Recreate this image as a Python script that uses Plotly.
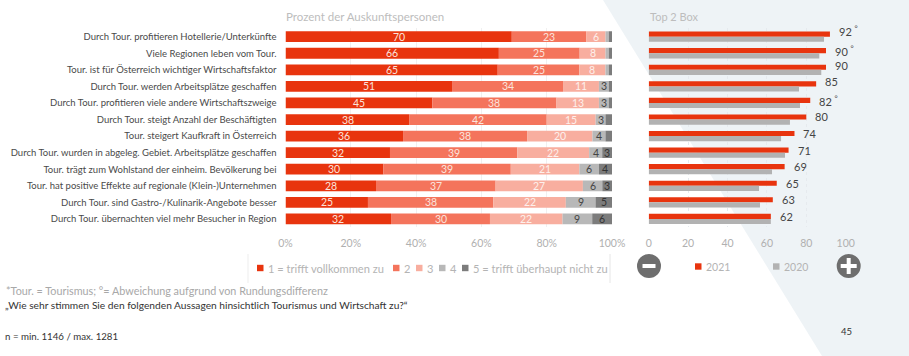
import plotly.graph_objects as go

W, H = 909, 356
FONT = "Lato"

statements = [
    "Durch Tour. profitieren Hotellerie/Unterkünfte",
    "Viele Regionen leben vom Tour.",
    "Tour. ist für Österreich wichtiger Wirtschaftsfaktor",
    "Durch Tour. werden Arbeitsplätze geschaffen",
    "Durch Tour. profitieren viele andere Wirtschaftszweige",
    "Durch Tour. steigt Anzahl der Beschäftigten",
    "Tour. steigert Kaufkraft in Österreich",
    "Durch Tour. wurden in abgeleg. Gebiet. Arbeitsplätze geschaffen",
    "Tour. trägt zum Wohlstand der einheim. Bevölkerung bei",
    "Tour. hat positive Effekte auf regionale (Klein-)Unternehmen",
    "Durch Tour. sind Gastro-/Kulinarik-Angebote besser",
    "Durch Tour. übernachten viel mehr Besucher in Region",
]

answer_1 = [70, 66, 65, 51, 45, 38, 36, 32, 30, 28, 25, 32]
answer_2 = [23, 25, 25, 34, 38, 42, 38, 39, 39, 37, 38, 30]
answer_3 = [6, 8, 8, 11, 13, 15, 20, 22, 21, 27, 22, 22]
answer_4 = [1, 1, 1, 3, 3, 3, 4, 4, 6, 6, 9, 9]
answer_5 = [1, 1, 1, 1, 1, 2, 2, 3, 4, 3, 5, 6]

answer_names = ["1 = trifft vollkommen zu", "2", "3", "4", "5 = trifft überhaupt nicht zu"]
answer_colors = ["#E8340E", "#F4745C", "#F8AE9F", "#B8B8B8", "#7C7C7C"]
answer_text_colors = ["#FBE3DC", "#FBE3DC", "#FDF0EC", "#444444", "#333333"]
# Shares too thin to carry a number stay unlabelled
MIN_LABELLED_SHARE = 3

top2_2021 = [92, 90, 90, 85, 82, 80, 74, 71, 69, 65, 63, 62]
top2_2020 = [89, 86.6, 87.6, 76.3, 76.8, 71.7, 67.2, 69.2, 62.6, 56, 56.5, 62]
top2_rounding_note = [True, True, False, False, True, False, False, False, False, False, False, False]
top2_label_lift = [4, 0, 2, 2, 0, 0, 0, 0, 0, 0, 0, 0]

pct_ticks = [0, 20, 40, 60, 80, 100]
pct_labels = ["0%", "20%", "40%", "60%", "80%", "100%"]
box_ticks = [0, 20, 40, 60, 80, 100]


def px(x):
    return x / W


def py(y):
    return 1 - y / H


rows = list(range(len(statements)))
answers = [answer_1, answer_2, answer_3, answer_4, answer_5]
row_totals = [sum(a[i] for a in answers) for i in rows]

fig = go.Figure()
annotations = []

# Stacked answer shares, scaled per row to a full 100 % bar
running = [0.0] * len(rows)
for values, name, color, text_color in zip(answers, answer_names, answer_colors, answer_text_colors):
    shares = [v / t * 100 for v, t in zip(values, row_totals)]
    fig.add_trace(go.Bar(
        y=rows, x=shares, base=list(running), name=name, orientation="h",
        xaxis="x", yaxis="y", width=0.65, marker=dict(color=color, line_width=0),
        showlegend=False,
    ))
    for i, (value, share) in enumerate(zip(values, shares)):
        if value >= MIN_LABELLED_SHARE:
            annotations.append(dict(
                x=running[i] + share / 2, y=i, xref="x", yref="y", text=str(value),
                showarrow=False, xanchor="center", yanchor="middle",
                font=dict(family=FONT, size=10.5, color=text_color),
            ))
    running = [r + s for r, s in zip(running, shares)]

# Top-2-box comparison of both survey years
fig.add_trace(go.Bar(
    y=rows, x=top2_2021, name="2021", orientation="h", xaxis="x2", yaxis="y2",
    width=0.31, offset=-0.31, marker=dict(color="#E8340E", line_width=0), showlegend=False,
))
fig.add_trace(go.Bar(
    y=rows, x=top2_2020, name="2020", orientation="h", xaxis="x2", yaxis="y2",
    width=0.31, offset=0, marker=dict(color="#B2B2B2", line_width=0), showlegend=False,
))


def note(x, y, text, size=10.5, color="#444444", anchor="left"):
    annotations.append(dict(
        x=px(x), y=py(y), xref="paper", yref="paper", text=text, showarrow=False,
        xanchor=anchor, yanchor="middle", align=anchor, borderpad=0,
        font=dict(family=FONT, size=size, color=color),
    ))


for i, value in enumerate(top2_2021):
    label = f"{value}" + (" <sup>°</sup>" if top2_rounding_note[i] else "")
    annotations.append(dict(
        x=value, y=i - 0.155, xref="x2", yref="y2", text=label, showarrow=False,
        xanchor="left", yanchor="middle", xshift=7, yshift=top2_label_lift[i],
        font=dict(family=FONT, size=11, color="#444444"),
    ))

note(285, 17, "Prozent der Auskunftspersonen", size=11.5, color="#BDBDBD")
note(649, 17, "Top 2 Box", size=11, color="#BDBDBD")
note(5, 290, "*Tour. = Tourismus; °= Abweichung aufgrund von Rundungsdifferenz", size=10.8, color="#A8A8A8")
note(3.5, 304.5, "„Wie sehr stimmen Sie den folgenden Aussagen hinsichtlich Tourismus und Wirtschaft zu?“", size=10.2, color="#333333")
note(3.5, 336, "n = min. 1146 / max. 1281", size=9.7, color="#333333")
note(846, 331, "45", size=9.5, color="#333333", anchor="center")

shapes = [
    # Pale diagonal panel behind the right-hand chart
    dict(type="path", xref="paper", yref="paper", layer="below",
         path=f"M {px(603)} {py(0)} L {px(W)} {py(0)} L {px(W)} {py(H)} L {px(822)} {py(H)} Z",
         fillcolor="#EEF3F6", line_width=0),
    # Faint legend frame edges
    dict(type="line", xref="paper", yref="paper", x0=px(248), x1=px(248), y0=py(254), y1=py(283),
         line=dict(color="#EDEDED", width=1)),
    dict(type="line", xref="paper", yref="paper", x0=px(610), x1=px(610), y0=py(254), y1=py(283),
         line=dict(color="#E6E6E6", width=1)),
]

# Legend rows
legend_items = [
    (257, 268, answer_colors[0], answer_names[0], 11.1),
    (393, 268, answer_colors[1], answer_names[1], 11.1),
    (416, 268, answer_colors[2], answer_names[2], 11.1),
    (439, 268, answer_colors[3], answer_names[3], 11.1),
    (462, 268, answer_colors[4], answer_names[4], 11.1),
    (695, 266.5, "#E8340E", "2021", 10.5),
    (773, 266.5, "#B2B2B2", "2020", 10.5),
]
for x, y, color, label, size in legend_items:
    shapes.append(dict(type="rect", xref="paper", yref="paper", x0=px(x), x1=px(x + 6.5),
                       y0=py(y + 3.2), y1=py(y - 3.2), fillcolor=color, line_width=0))
    note(x + 9.5, y, label, size=size, color="#B4B4B4")

# Minus and plus badges at the ends of the scale
for cx, half_bar, is_plus in [(649, 6.5, False), (848.7, 8, True)]:
    cy = 266
    shapes.append(dict(type="circle", xref="paper", yref="paper", x0=px(cx - 12), x1=px(cx + 12),
                       y0=py(cy + 12), y1=py(cy - 12), fillcolor="#6E6E6E", line_width=0))
    shapes.append(dict(type="rect", xref="paper", yref="paper", x0=px(cx - half_bar), x1=px(cx + half_bar),
                       y0=py(cy + 2), y1=py(cy - 2), fillcolor="#FFFFFF", line_width=0))
    if is_plus:
        shapes.append(dict(type="rect", xref="paper", yref="paper", x0=px(cx - 2), x1=px(cx + 2),
                           y0=py(cy + half_bar), y1=py(cy - half_bar), fillcolor="#FFFFFF", line_width=0))

tick_font = dict(family=FONT, size=10.5, color="#B0B0B0")
y_domain = [py(227.2), py(28.4)]

fig.update_layout(
    width=W, height=H, autosize=False,
    margin=dict(l=0, r=0, t=0, b=0, autoexpand=False),
    paper_bgcolor="#FFFFFF", plot_bgcolor="rgba(0,0,0,0)",
    barmode="overlay", font=dict(family=FONT),
    xaxis=dict(domain=[px(285.5), px(612)], range=[0, 100], anchor="y", automargin=False,
               tickvals=pct_ticks, ticktext=pct_labels, tickfont=tick_font,
               showgrid=True, gridcolor="#F0F0F0", gridwidth=1, zeroline=False,
               showline=False, ticks="", ticklabelstandoff=8, fixedrange=True),
    yaxis=dict(domain=y_domain, range=[11.5, -0.5], anchor="x", automargin=False,
               tickvals=rows, ticktext=statements,
               tickfont=dict(family=FONT, size=9.5, color="#4A4A4A"),
               showgrid=False, zeroline=False, showline=False, ticks="",
               ticklabelstandoff=8, fixedrange=True),
    xaxis2=dict(domain=[px(648.7), px(845.7)], range=[0, 100], anchor="y2", automargin=False,
                tickvals=box_ticks, tickfont=tick_font,
                showgrid=True, gridcolor="#E6EAEE", griddash="dot", gridwidth=1, zeroline=False,
                showline=False, ticks="", ticklabelstandoff=8, fixedrange=True),
    yaxis2=dict(domain=y_domain, range=[11.5, -0.5], anchor="x2", showticklabels=False,
                automargin=False,
                showgrid=False, zeroline=False, showline=False, ticks="", fixedrange=True),
    shapes=shapes, annotations=annotations,
)

fig.write_html("out.html")
